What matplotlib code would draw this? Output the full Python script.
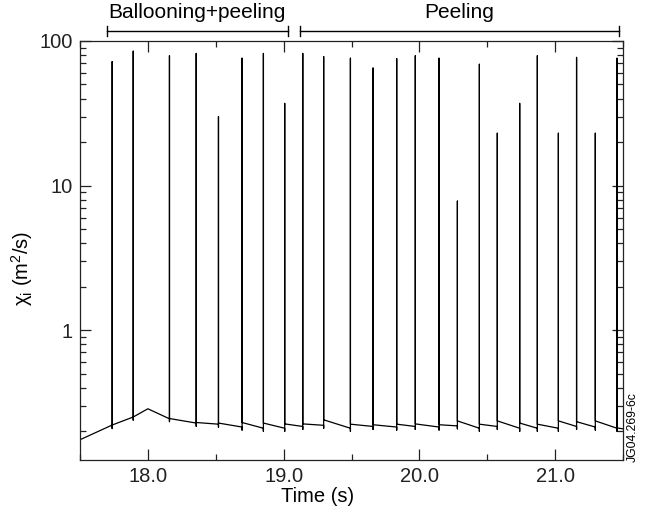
import matplotlib
matplotlib.use('Agg')
import matplotlib.pyplot as plt
from matplotlib.ticker import LogLocator, NullFormatter, MultipleLocator
import numpy as np

plt.rcParams['font.family'] = ['Liberation Sans', 'DejaVu Sans']
plt.rcParams['mathtext.fontset'] = 'custom'
plt.rcParams['mathtext.rm'] = 'Liberation Sans'
plt.rcParams['mathtext.it'] = 'Liberation Sans:italic'

# ELM times (s) and chi_i peak values (m^2/s)
elm_t = [17.737, 17.892, 18.159, 18.356, 18.520, 18.694, 18.851, 19.008,
         19.141, 19.295, 19.492, 19.659, 19.833, 19.970, 20.145, 20.280,
         20.442, 20.574, 20.739, 20.869, 21.024, 21.158, 21.296, 21.456]
elm_peak = [72, 85, 79, 82, 30, 76, 82, 37,
            82, 78, 76, 65, 75.5, 79, 76, 7.8,
            69, 23, 37, 79, 23, 77, 23, 76]
# baseline just before / after each ELM, and the foot of each spike
elm_pre = [0.220, 0.250, 0.243, 0.227, 0.223, 0.213, 0.209, 0.209,
           0.215, 0.219, 0.209, 0.215, 0.213, 0.215, 0.213, 0.217,
           0.209, 0.215, 0.209, 0.209, 0.209, 0.215, 0.213, 0.209]
elm_post = [0.220, 0.250, 0.244, 0.229, 0.227, 0.229, 0.227, 0.224,
            0.224, 0.239, 0.223, 0.221, 0.223, 0.224, 0.221, 0.235,
            0.223, 0.235, 0.227, 0.223, 0.235, 0.232, 0.235, 0.210]
elm_low = [0.208, 0.238, 0.232, 0.216, 0.212, 0.203, 0.199, 0.199,
           0.205, 0.209, 0.199, 0.205, 0.203, 0.205, 0.203, 0.207,
           0.199, 0.205, 0.199, 0.199, 0.199, 0.205, 0.203, 0.199]

# baseline start, turning point and end
t_start, v_start = 17.5, 0.174
t_kink, v_kink = 18.0, 0.285
t_end, v_end = 21.5, 0.207

# phase brackets above the plot
phase_names = ['Ballooning+peeling', 'Peeling']
phase_start = [17.70, 19.12]
phase_end = [19.03, 21.47]

ts, vs = [t_start], [v_start]
kink_done = False
for i, t in enumerate(elm_t):
    if not kink_done and t > t_kink:
        ts.append(t_kink)
        vs.append(v_kink)
        kink_done = True
    ts += [t, t, t, t]
    vs += [elm_pre[i], elm_low[i], elm_peak[i], elm_post[i]]
ts.append(t_end)
vs.append(v_end)

fig = plt.figure(figsize=(6.46, 5.14), dpi=100)
ax = fig.add_axes([80/646, 1-460/514, 543/646, 419/514])

ax.plot(ts, vs, color='black', lw=0.9)

ax.set_yscale('log')
ax.set_xlim(17.5, 21.5)
ax.set_ylim(0.126, 100)

ax.set_xticks([18, 19, 20, 21])
ax.set_xticklabels(['18.0', '19.0', '20.0', '21.0'])
ax.xaxis.set_minor_locator(MultipleLocator(0.5))
ax.set_yticks([1, 10, 100])
ax.set_yticklabels(['1', '10', '100'])
ax.yaxis.set_minor_locator(LogLocator(base=10, subs=np.arange(2, 10)))
ax.yaxis.set_minor_formatter(NullFormatter())

ax.tick_params(which='both', direction='in', top=True, right=True,
               labelsize=14.5, width=0.9, colors='#222222')
ax.tick_params(which='major', length=8, pad=5)
ax.tick_params(which='minor', length=4)
for s in ax.spines.values():
    s.set_linewidth(0.9)
    s.set_color('#222222')

ax.set_xlabel('Time (s)', fontsize=14.5)
ax.xaxis.set_label_coords(0.438, -0.065)
ax.set_ylabel(r'χ$_{\mathrm{i}}$ (m$^{2}$/s)', fontsize=14.5)
ax.yaxis.set_label_coords(-0.083, 0.458)

# brackets
trans = ax.get_xaxis_transform()
for name, a, b in zip(phase_names, phase_start, phase_end):
    ax.plot([a, b], [1.024, 1.024], color='black', lw=1.0, transform=trans, clip_on=False)
    for x in (a, b):
        ax.plot([x, x], [1.012, 1.036], color='black', lw=1.0, transform=trans, clip_on=False)
    ax.text((a + b) / 2, 1.045, name, transform=trans, ha='center', va='bottom', fontsize=15)

fig.text(633/646, 1-462/514, 'JG04.269-6c', rotation=90, ha='center', va='bottom', fontsize=8.8)

fig.savefig('out.png', dpi=100)
